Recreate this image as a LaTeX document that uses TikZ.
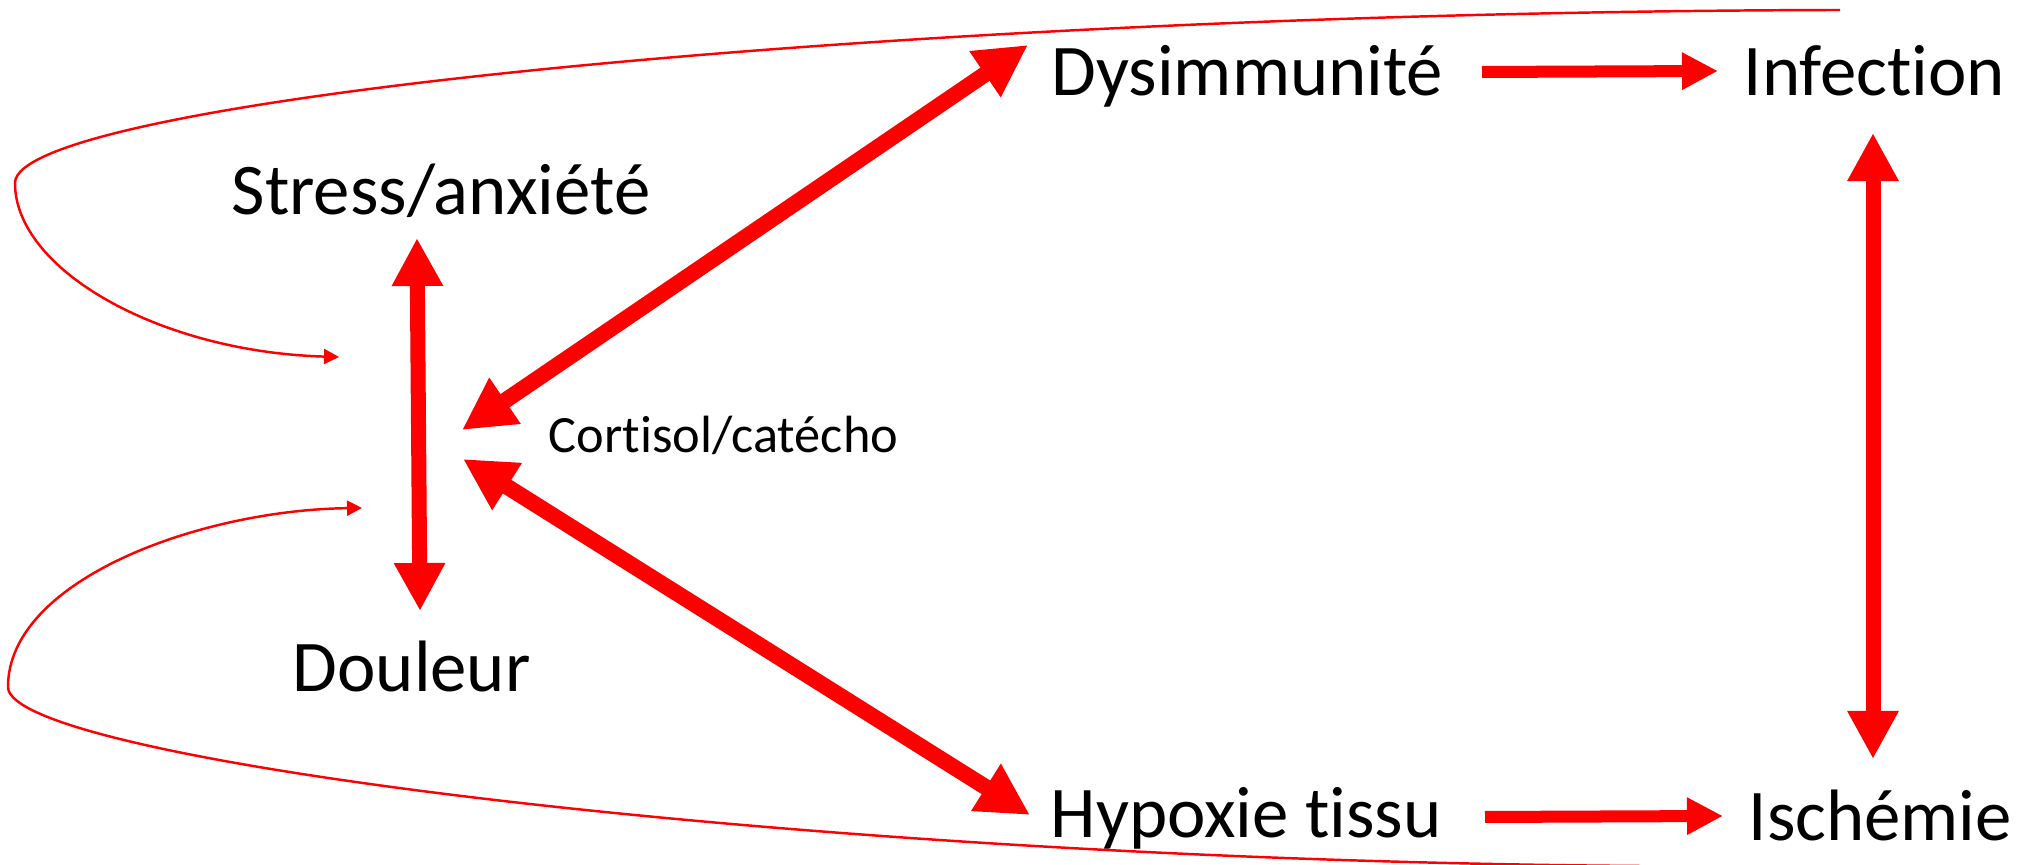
\documentclass[tikz,border=0pt]{standalone}
\usepackage{fontspec}
\setmainfont{Carlito}[Ligatures={NoCommon,NoContextual}]
\usetikzlibrary{arrows.meta}
\begin{document}
\begin{tikzpicture}[x=0.01cm, y=-0.01cm,
	lbl/.style={inner sep=0pt, anchor=base west, font=\fontsize{20.7}{25}\selectfont},
	dbl/.style={red, line width=0.15cm, {Triangle[width=0.48cm 0,length=0.48cm 0]}-{Triangle[width=0.48cm 0,length=0.48cm 0]}},
	diag/.style={dbl, line width=0.16cm, {Triangle[width=0.52cm 0,length=0.52cm 0]}-{Triangle[width=0.52cm 0,length=0.52cm 0]}},
	simple/.style={red, line width=0.12cm, -{Triangle[width=0.35cm 0,length=0.36cm 0]}},
	retour/.style={red, line width=0.7pt, -{Triangle[width=0.15cm 0,length=0.15cm 0]}}]
	\useasboundingbox (0,0) rectangle (2023,865);
	% textes
	\node[lbl] (stress) at (231,215) {Stress/anxiété};
	\node[lbl] (douleur) at (292,692) {Douleur};
	\node[lbl, font=\fontsize{14.9}{18}\selectfont] (cortisol) at (548,453) {Cortisol/catécho};
	\node[lbl] (dysimm) at (1051,96) {Dysimmunité};
	\node[lbl] (infect) at (1743,96) {Infection};
	\node[lbl] (hypox) at (1050,838) {Hypoxie tissu};
	\node[lbl] (ischem) at (1748,841) {Ischémie};
	% bouts des fleches
	\coordinate (s1) at (417,238); \coordinate (d1) at (420,611);
	\coordinate (c1) at (462,430); \coordinate (y1) at (1028,45);
	\coordinate (c2) at (463,459); \coordinate (h1) at (1030,815);
	\coordinate (i1) at (1873,133); \coordinate (j1) at (1873,759);
	\coordinate (y2) at (1482,72); \coordinate (i2) at (1718,71);
	\coordinate (h2) at (1485,817); \coordinate (j2) at (1723,816);
	\foreach \a/\b in {s1/d1,i1/j1} \draw[dbl] (\a)--(\b);
	\foreach \a/\b in {c1/y1,c2/h1} \draw[diag] (\a)--(\b);
	\foreach \a/\b in {y2/i2,h2/j2} \draw[simple] (\a)--(\b);
	% boucles
	\coordinate (t0) at (1840,10); \coordinate (t1) at (339,357);
	\coordinate (b0) at (1640,866); \coordinate (b1) at (362,508);
	\draw[retour] (t0) .. controls (900,12) and (15,100) .. (15,183) .. controls (15,270) and (160,352) .. (t1);
	\draw[retour] (b0) .. controls (800,860) and (8,760) .. (8,687) .. controls (8,580) and (200,510) .. (b1);
\end{tikzpicture}
\end{document}
